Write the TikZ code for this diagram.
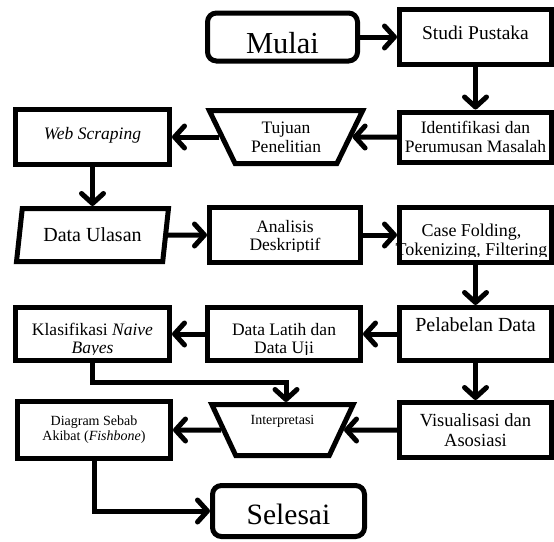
\documentclass[tikz,border=0pt]{standalone}
\usepackage{fontspec}
\setmainfont{Liberation Serif}
\usetikzlibrary{shapes.geometric,arrows.meta}
\newcommand\fsz[2]{\fontsize{#1}{#2}\selectfont}
\begin{document}
\begin{tikzpicture}[x=1pt,y=-1pt,
 box/.style={draw, line width=5pt, fill=white, inner sep=0pt, align=center, font=\fsz{17.5}{18.5}},
 rbox/.style={box, rounded corners=9pt},
 trap/.style={draw, line width=5pt, fill=white, trapezium, trapezium stretches=true, shape border rotate=180, trapezium angle=60, inner sep=0pt, align=center, font=\fsz{17.5}{19}},
 para/.style={draw, line width=5pt, fill=white, trapezium, trapezium stretches=true, trapezium left angle=74, trapezium right angle=106, inner sep=0pt, font=\fsz{20}{22}},
 txt/.style={inner sep=0pt, align=center, font=\fsz{17.5}{18}, anchor=south, text depth=0pt},
 arr/.style={line width=5pt, -{Straight Barb[length=10pt,width=22pt,round]}}
]
\useasboundingbox (0,0) rectangle (554,541);

\node[rbox, minimum width=150pt, minimum height=48pt, font=\fsz{30.5}{32}, text height=32pt, text depth=0pt] (mulai) at (282.5,37) {Mulai};
\node[box, minimum width=152pt, minimum height=55pt, font=\fsz{19.5}{20}, text height=13.3pt, text depth=8.4pt] (studi) at (475.5,37) {Studi Pustaka};
\node[box, minimum width=152pt, minimum height=50pt] (ident) at (475.5,137) {Identifikasi dan\\Perumusan Masalah};
\node[trap, minimum width=153.5pt, minimum height=53pt] (tuj) at (286,137) {Tujuan\\Penelitian};
\node[box, minimum width=154pt, minimum height=55pt, font=\itshape\fsz{17.5}{18.5}, text depth=8pt] (web) at (92.5,137) {Web Scraping};

\node[para, minimum width=152pt, minimum height=53pt] (dataul) at (92.5,235) {Data Ulasan};
\node[box, minimum width=151pt, minimum height=55pt] (anal) at (285,235) {};
\begin{scope}
\clip (207,205) rectangle (363,251.8);
\node[txt] (analt) at (285,251) {Analisis\\Deskriptif};
\end{scope}
\node[box, minimum width=152pt, minimum height=55pt] (case) at (475.5,235) {};
\begin{scope}
\clip (380,205) rectangle (554,256.8);
\node[txt, font=\fsz{18}{19.5}] (caset) at (471.5,256) {Case Folding,\\Tokenizing, Filtering};
\end{scope}

\node[box, minimum width=152pt, minimum height=53pt, font=\fsz{20}{21}, text height=13.7pt, text depth=18.5pt] (pel) at (475.5,334) {Pelabelan Data};
\node[box, minimum width=153pt, minimum height=53pt] (latih) at (284,334) {};
\begin{scope}
\clip (205,305) rectangle (363,354.3);
\node[txt] (latiht) at (284,353.5) {Data Latih dan\\Data Uji};
\end{scope}
\node[box, minimum width=154pt, minimum height=53pt] (klas) at (92.5,334) {};
\begin{scope}
\clip (13,305) rectangle (172,354.3);
\node[txt] (klast) at (92.5,353.5) {Klasifikasi \textit{Naive}\\\textit{Bayes}};
\end{scope}

\node[trap, trapezium angle=61.5, minimum width=142.5pt, minimum height=51pt, font=\fsz{14}{15}, text height=9.6pt, text depth=20.4pt] (interp) at (282.5,430) {Interpretasi};
\node[box, minimum width=153pt, minimum height=57pt, font=\fsz{14}{15}] (diag) at (94,430) {Diagram Sebab\\Akibat (\textit{Fishbone})};
\node[box, minimum width=152pt, minimum height=55pt, font=\fsz{18.5}{19.5}] (visual) at (475.5,430) {Visualisasi dan\\Asosiasi};
\node[rbox, minimum width=152pt, minimum height=51pt, font=\fsz{29.5}{31}, text height=27pt, text depth=0pt] (sel) at (288.5,511) {Selesai};

\draw[arr] (mulai) -- (studi);
\draw[arr] (studi) -- (ident);
\draw[arr] (ident) -- (tuj);
\draw[arr] (tuj) -- (web);
\draw[arr] (web) -- (dataul);
\draw[arr] (dataul) -- (anal);
\draw[arr] (anal) -- (case);
\draw[arr] (case) -- (pel);
\draw[arr] (pel) -- (latih);
\draw[arr] (latih) -- (klas);
\coordinate (k1) at (286,382.5);
\draw[arr] (klas.south) |- (k1) -- (k1 |- interp.north);
\draw[arr] (pel) -- (visual);
\draw[arr] (visual) -- (interp);
\draw[arr] (interp) -- (diag);
\draw[arr] (diag.south) |- (sel.west);
\end{tikzpicture}
\end{document}
